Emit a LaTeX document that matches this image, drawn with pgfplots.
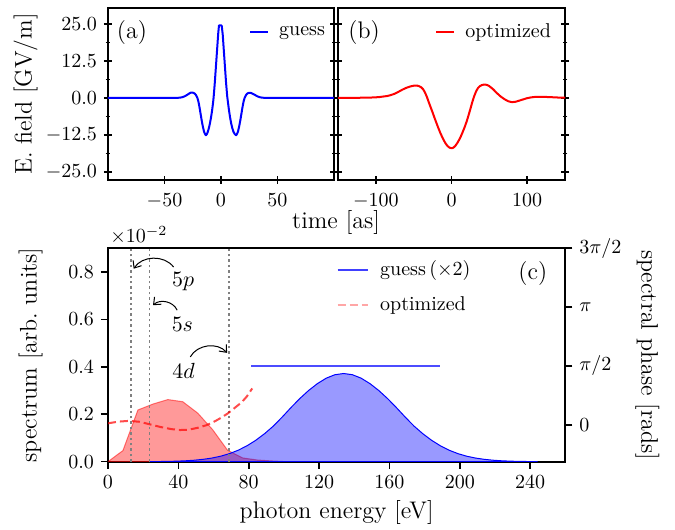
\documentclass[border=0pt]{standalone}
\usepackage{pgfplots}
\pgfplotsset{compat=1.18}
\usetikzlibrary{arrows.meta}
\begin{document}
\begin{tikzpicture}
\path[use as bounding box] (0,0) rectangle (337.5pt,265pt);
\pgfplotsset{
  mystyle/.style={
    scale only axis,
    axis line style={line width=0.9pt},
    major tick style={line width=0.8pt, black},
    minor tick style={line width=0.6pt, black},
    tick label style={font=\fontsize{10}{12}\selectfont},
    label style={font=\fontsize{12}{14}\selectfont},
    scaled y ticks=false,
  },
  toplegend/.style={
    legend style={draw=none, fill=none, inner sep=0pt, outer sep=0pt,
      font=\fontsize{10}{12}\selectfont, nodes={inner sep=0pt},
      /tikz/every odd column/.append style={column sep=5pt}},
    legend image code/.code={\draw[##1] (0pt,0pt) -- (9pt,0pt);},
  },
}
% ---------------- panel (a)
\begin{axis}[mystyle, toplegend,
  at={(54pt,175pt)}, anchor=south west, width=113pt, height=86pt,
  xmin=-100, xmax=100, ymin=-27.7, ymax=30.3,
  xtick={-50,0,50},
  ytick={-25,-12.5,0,12.5,25},
  minor ytick={-18.75,-6.25,6.25,18.75},
  xtick pos=left, ytick pos=both, tick align=center,
  major tick length=4pt, minor tick length=2.4pt,
  x tick label style={yshift=-1.5pt},
  y tick label style={/pgf/number format/fixed, /pgf/number format/fixed zerofill, /pgf/number format/precision=1},
  ylabel={E.\ field [GV/m]},
  ylabel style={at={(axis description cs:-0.31,0.5)}, anchor=south, inner sep=0pt},
  xlabel={time [as]},
  xlabel style={at={(axis description cs:1.009,-0.175)}, anchor=north, inner sep=0pt},
  legend style={at={(axis description cs:0.96,0.86)}, anchor=east},
]
\addplot[blue, line width=1pt, line join=round] coordinates {
(-100,0) (-40,0) (-38,0.02) (-36,0.08) (-34,0.25) (-32,0.55) (-30,1.0) (-28,1.5) (-26.5,1.8) (-25,1.75) (-24,1.6) (-23,1.35) (-22,0.85) (-21,0.1) (-20,-1.2) (-19,-3.2) (-18,-5.5) (-17,-7.8) (-16,-9.8) (-15,-11.4) (-14,-12.3) (-13.3,-12.6) (-12.5,-12.2) (-12,-11.8) (-11,-10.6) (-10,-9.0) (-9,-7.0) (-8,-4.6) (-7,-1.6) (-6.5,0.3) (-5.5,5.0) (-4.5,10.5) (-3.5,16.0) (-2.5,21.5) (-1.8,24.4) (0.6,24.4)
(1.5,21.5) (2.5,16.0) (3.5,10.5) (4.5,5.0) (5.5,0.5) (6,-1.0) (7,-4.0) (8,-6.5) (9,-8.6) (10,-10.2) (11,-11.4) (12,-12.1) (13.3,-12.6) (14,-12.3) (15,-11.4) (16,-9.8) (17,-7.8) (18,-5.5) (19,-3.2) (20,-1.2) (21,0.1) (22,0.85) (23,1.35) (24,1.6) (25,1.7) (26.5,1.65) (28,1.4) (30,1.0) (32,0.55) (34,0.25) (36,0.08) (38,0.02) (40,0) (100,0)
};
\addlegendentry{guess}
\node[font=\fontsize{12}{14}\selectfont] at (axis description cs:0.106,0.86) {(a)};
\end{axis}
% ---------------- panel (b)
\begin{axis}[mystyle, toplegend,
  at={(169pt,175pt)}, anchor=south west, width=113.5pt, height=86pt,
  xmin=-150, xmax=150, ymin=-27.7, ymax=30.3,
  xtick={-100,0,100},
  ytick={-25,-12.5,0,12.5,25}, yticklabels={},
  minor ytick={-18.75,-6.25,6.25,18.75},
  xtick pos=left, ytick pos=both, tick align=center,
  major tick length=4pt, minor tick length=2.4pt,
  x tick label style={yshift=-1.5pt},
  legend style={at={(axis description cs:0.938,0.86)}, anchor=east},
]
\addplot[red, line width=1pt, line join=round] coordinates {
(-150,0) (-130,0.01) (-115,0.05) (-105,0.12) (-100,0.18) (-95,0.28) (-90,0.45) (-85,0.62) (-80,0.95) (-75,1.4) (-70,2.05) (-65,2.75) (-60,3.35) (-55,3.8) (-50,4.1) (-47.5,4.15) (-45,4.1) (-42.5,3.9) (-40,3.55) (-37.5,2.9) (-35,1.8) (-32.5,0.3) (-30,-1.5) (-27.5,-3.2) (-25,-4.9) (-22.5,-6.7) (-20,-8.4) (-17.5,-10.1) (-15,-11.7) (-12.5,-13.1) (-10,-14.4) (-7.5,-15.5) (-5,-16.3) (-2.5,-16.8) (0,-17.0) (2.5,-16.8) (5,-16.2) (7.5,-15.3) (10,-14.2) (12.5,-12.9) (15,-11.4) (17.5,-9.8) (20,-8.0) (22.5,-5.9) (25,-3.7) (27.5,-1.4) (30,0.6) (32.5,2.2) (35,3.3) (37.5,3.95) (40,4.3) (42.5,4.45) (45,4.45) (47.5,4.3) (50,3.95) (55,2.9) (60,1.6) (65,0.45) (67.5,0.0) (70,-0.45) (75,-1.15) (80,-1.45) (85,-1.3) (90,-0.9) (95,-0.5) (100,-0.1) (105,0.15) (110,0.3) (120,0.35) (130,0.25) (140,0.12) (150,0.05)
};
\addlegendentry{optimized}
\node[font=\fontsize{12}{14}\selectfont] at (axis description cs:0.115,0.86) {(b)};
\end{axis}
% ---------------- panel (c): spectrum
\begin{axis}[mystyle,
  at={(54pt,34.15pt)}, anchor=south west, width=228.65pt, height=106.7pt,
  xmin=0, xmax=260, ymin=0, ymax=0.9,
  xtick={0,40,80,120,160,200,240},
  ytick={0,0.2,0.4,0.6,0.8},
  xtick pos=left, ytick pos=left, tick align=outside,
  major tick length=3.5pt,
  y tick label style={/pgf/number format/fixed, /pgf/number format/fixed zerofill, /pgf/number format/precision=1},
  xlabel={photon energy [eV]},
  xlabel style={at={(axis description cs:0.5,-0.18)}, anchor=north, inner sep=0pt},
  ylabel={spectrum [arb.\ units]},
  ylabel style={at={(axis description cs:-0.142,0.5)}, anchor=south, inner sep=0pt},
  legend style={draw=none, fill=none, at={(axis description cs:0.5,0.945)}, anchor=north west,
    inner sep=0pt, outer sep=0pt, row sep=7.5pt, font=\fontsize{10}{12}\selectfont,
    nodes={inner sep=0pt, text height=7.5pt, text depth=2.5pt},
    /tikz/every odd column/.append style={column sep=5.8pt}},
  legend cell align=left,
  legend image code/.code={\draw[#1] (0pt,0pt) -- (15pt,0pt);},
]
\addlegendimage{blue, draw opacity=0.75, line width=1pt}
\addlegendentry{guess$\,(\times2)$}
\addlegendimage{red, draw opacity=0.35, line width=1pt, dash pattern=on 4pt off 2pt}
\addlegendentry{optimized}
\addplot[draw=red, draw opacity=0.5, line width=0.5pt, fill=red, fill opacity=0.4, forget plot] coordinates {
(0,0) (8.5,0.047) (17,0.218) (25.5,0.243) (34,0.262) (42.5,0.253) (51,0.205) (59.5,0.135) (68,0.048) (76.5,0.016) (85,0.007) (93.5,0.003) (102,0)
} \closedcycle;
\addplot[draw=blue, line width=0.5pt, fill=blue, fill opacity=0.4, forget plot] coordinates {
(24,0.0004) (29,0.0007) (34,0.0013) (39,0.0022) (44,0.0038) (49,0.0062) (54,0.0099) (59,0.0153) (64,0.0231) (69,0.0339) (74,0.0483) (79,0.0670) (84,0.0902) (89,0.1180) (94,0.1502) (99,0.1880) (104,0.2280) (109,0.2660) (114,0.3000) (119,0.3290) (124,0.3520) (129,0.3668) (134,0.372) (139,0.3668) (144,0.3520) (149,0.3290) (154,0.3000) (159,0.2660) (164,0.2280) (169,0.1880) (174,0.1502) (179,0.1180) (184,0.0902) (189,0.0670) (194,0.0483) (199,0.0339) (204,0.0231) (209,0.0153) (214,0.0099) (219,0.0062) (224,0.0038) (229,0.0022) (234,0.0013) (239,0.0007) (244,0.0004)
} \closedcycle;
\addplot[gray, line width=0.55pt, dash pattern=on 1.2pt off 1.5pt, forget plot] coordinates {(13.1,0) (13.1,0.9)};
\addplot[gray, line width=0.55pt, dash pattern=on 1.2pt off 1.5pt, forget plot] coordinates {(23.5,0) (23.5,0.9)};
\addplot[gray, line width=0.55pt, dash pattern=on 1.2pt off 1.5pt, forget plot] coordinates {(68.8,0) (68.8,0.9)};
\draw[-{Straight Barb[length=3pt,width=5pt]}, line width=0.5pt] (axis cs:37.3,0.821) to[bend right=55] (axis cs:14.6,0.814);
\draw[-{Straight Barb[length=3pt,width=5pt]}, line width=0.5pt] (axis cs:39.3,0.639) to[bend right=55] (axis cs:25.6,0.66);
\draw[-{Straight Barb[length=3pt,width=5pt]}, line width=0.5pt] (axis cs:46.8,0.442) to[bend left=55] (axis cs:67.7,0.459);
\node[font=\fontsize{11}{13}\selectfont] at (axis cs:42.7,0.758) {$5p$};
\node[font=\fontsize{11}{13}\selectfont] at (axis cs:42.3,0.577) {$5s$};
\node[font=\fontsize{11}{13}\selectfont] at (axis cs:43,0.383) {$4d$};
\node[font=\fontsize{12}{14}\selectfont] at (axis description cs:0.929,0.884) {(c)};
\end{axis}
% ---------------- panel (c): phase
\begin{axis}[mystyle,
  at={(54pt,34.15pt)}, anchor=south west, width=228.65pt, height=106.7pt,
  xmin=0, xmax=260, ymin=-0.985, ymax=4.7124,
  axis x line=none, axis y line*=right,
  ytick={0,1.5708,3.1416,4.7124},
  yticklabels={$0$,$\pi/2$,$\pi$,$3\pi/2$},
  tick align=outside, major tick length=3.5pt,
  ylabel={spectral phase [rads]},
  ylabel style={rotate=180, at={(axis description cs:1.1524,0.5)}, anchor=south, inner sep=0pt},
]
\addplot[blue, draw opacity=0.7, line width=1pt] coordinates {(81.5,1.5708) (189,1.5708)};
\addplot[red, draw opacity=0.7, line width=1pt, dash pattern=on 4pt off 2pt] coordinates {
(0,0.04) (6,0.085) (12,0.105) (18,0.08) (24,0.01) (30,-0.06) (36,-0.115) (41,-0.14) (46,-0.13) (51,-0.08) (56,-0.01) (61,0.10) (64,0.18) (68,0.30) (72,0.45) (76,0.60) (79,0.76) (82,0.97)
};
\end{axis}
\node[anchor=base west, font=\fontsize{10}{12}\selectfont, inner sep=0pt] at (55pt,143.5pt) {$\times10^{-2}$};
\end{tikzpicture}
\end{document}
